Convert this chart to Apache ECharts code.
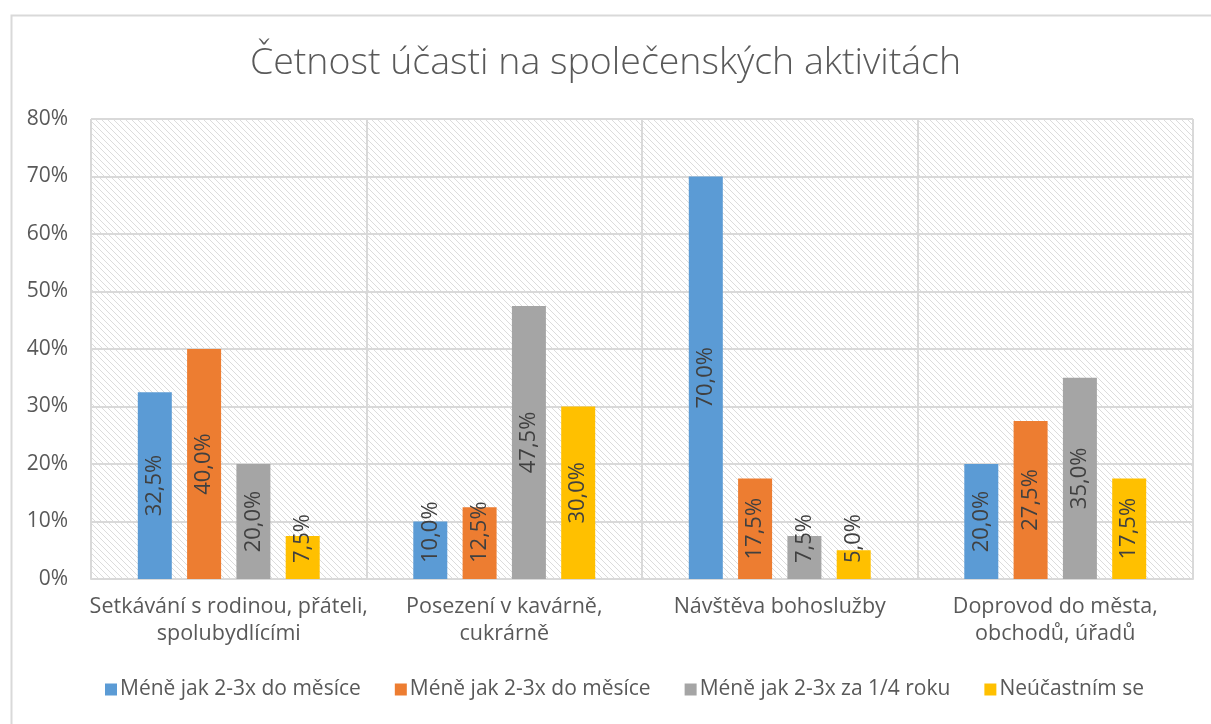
<!DOCTYPE html>
<html>
<head>
<meta charset="utf-8">
<script src="https://cdn.jsdelivr.net/npm/echarts@6/dist/echarts.min.js"></script>
<style>
  html, body { margin: 0; padding: 0; background: #fff; }
  #chart { width: 1211px; height: 724px; }
</style>
</head>
<body>
<div id="chart"></div>
<script>
// Data
const categories = [
  'Setkávání s rodinou, přáteli,\nspolubydlícími',
  'Posezení v kavárně,\ncukrárně',
  'Návštěva bohoslužby',
  'Doprovod do města,\nobchodů, úřadů'
];
// second name carries a zero-width space so the legend keeps both entries
const seriesNames = [
  'Méně jak 2-3x do měsíce',
  'Méně jak 2-3x do měsíce\u200b',
  'Méně jak 2-3x za 1/4 roku',
  'Neúčastním se'
];
const monthlyA = [32.5, 10.0, 70.0, 20.0];
const monthlyB = [40.0, 12.5, 17.5, 27.5];
const quarterly = [20.0, 47.5, 7.5, 35.0];
const never = [7.5, 30.0, 5.0, 17.5];
const yTicks = [0, 10, 20, 30, 40, 50, 60, 70, 80];

const colors = ['#5B9BD5', '#ED7D31', '#A5A5A5', '#FFC000'];
const textColor = '#595959';
const font = 'Open Sans';

// hatched plot background
const tile = document.createElement('canvas');
tile.width = 6;
tile.height = 6;
const ctx = tile.getContext('2d');
ctx.fillStyle = '#ffffff';
ctx.fillRect(0, 0, 6, 6);
ctx.strokeStyle = '#dcdcdc';
ctx.lineWidth = 1;
ctx.beginPath();
ctx.moveTo(-1, -1); ctx.lineTo(7, 7);
ctx.moveTo(-4, 2); ctx.lineTo(2, 8);
ctx.moveTo(2, -4); ctx.lineTo(8, 2);
ctx.stroke();

const fmt = v => v.toFixed(1).replace('.', ',') + '%';

// small bars get the label sitting on the bottom, the rest are centered
function barData(values) {
  return values.map(v => {
    if (v < 14) {
      return {
        value: v,
        label: { position: 'insideBottom', distance: 16, align: 'left', verticalAlign: 'middle' }
      };
    }
    return { value: v };
  });
}

const allValues = [monthlyA, monthlyB, quarterly, never];

const chart = echarts.init(document.getElementById('chart'));
chart.setOption({
  animation: false,
  textStyle: { fontFamily: font },
  title: {
    text: 'Četnost účasti na společenských aktivitách',
    left: 'center',
    top: 39,
    textStyle: { fontFamily: font, fontSize: 37.5, fontWeight: 300, color: textColor }
  },
  graphic: [{
    type: 'rect',
    left: 9,
    top: 13,
    shape: { width: 1220, height: 730 },
    style: { fill: 'none', stroke: '#d9d9d9', lineWidth: 2 },
    silent: true,
    z: -10
  }],
  legend: {
    bottom: 19,
    left: 100,
    itemWidth: 12,
    itemHeight: 12,
    itemGap: 34,
    icon: 'rect',
    textStyle: { fontFamily: font, fontSize: 21, color: textColor, padding: [0, 0, 0, -2] }
  },
  grid: {
    left: 91,
    top: 119,
    width: 1102,
    height: 460,
    show: true,
    borderWidth: 0,
    backgroundColor: { image: tile, repeat: 'repeat' }
  },
  xAxis: {
    type: 'category',
    data: categories,
    axisLine: { show: true, lineStyle: { color: '#d9d9d9', width: 2 } },
    axisTick: { show: false },
    splitLine: { show: true, interval: 0, lineStyle: { color: '#d9d9d9', width: 2 } },
    axisLabel: { interval: 0, color: textColor, fontSize: 21.5, lineHeight: 27, margin: 14 }
  },
  yAxis: {
    type: 'value',
    min: yTicks[0],
    max: yTicks[yTicks.length - 1],
    interval: 10,
    axisLine: { show: false },
    axisTick: { show: false },
    splitLine: { lineStyle: { color: '#d9d9d9', width: 2 } },
    axisLabel: { formatter: '{value}%', color: textColor, fontSize: 21, margin: 23 }
  },
  series: seriesNames.map((name, i) => ({
    name: name,
    type: 'bar',
    data: barData(allValues[i]),
    barWidth: 34,
    barGap: '45%',
    itemStyle: { color: colors[i] },
    label: {
      show: true,
      position: 'inside',
      rotate: 90,
      color: '#404040',
      fontSize: 22,
      formatter: p => fmt(p.value)
    }
  }))
});
</script>
</body>
</html>
